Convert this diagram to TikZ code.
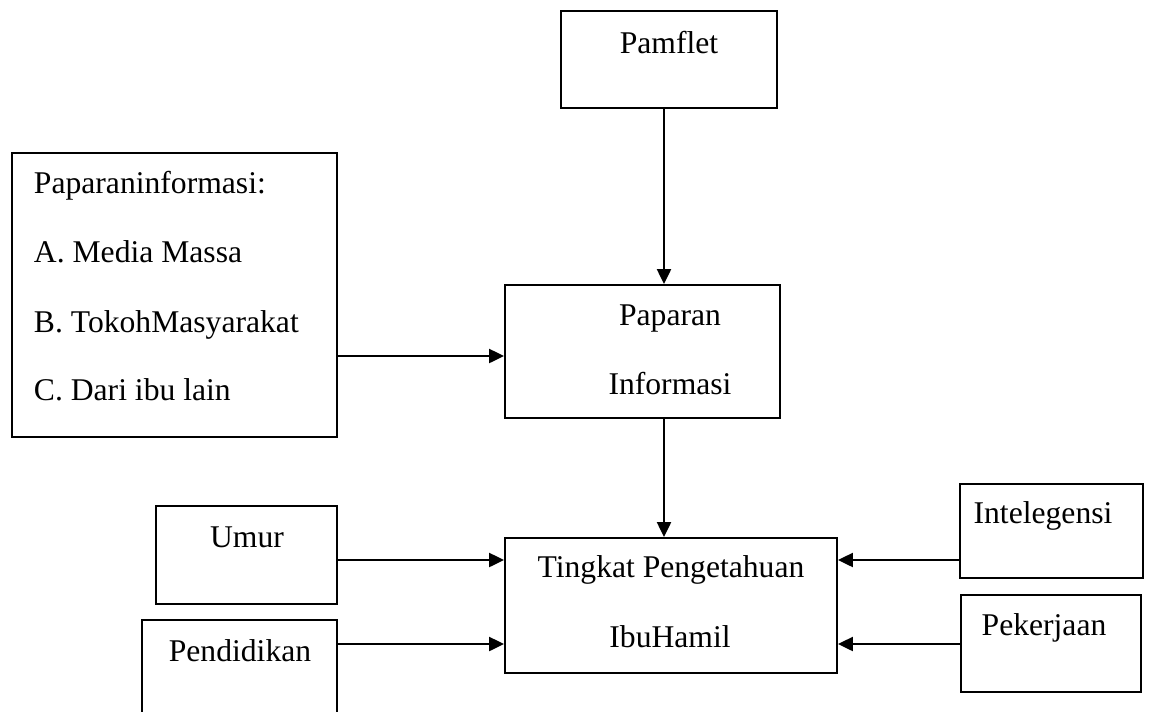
\documentclass[tikz,border=0pt]{standalone}
\usepackage{fontspec}
\setmainfont{Liberation Serif}
\usetikzlibrary{arrows.meta,fit}

\begin{document}
\begin{tikzpicture}[x=0.02cm,y=-0.02cm,>={Triangle[length=8.5pt,width=8pt]},
  line width=1.1pt,font=\fontsize{18}{22}\selectfont,
  box/.style={draw,inner sep=0pt},
  txt/.style={anchor=base,inner sep=0pt}]
  \useasboundingbox (0,0) rectangle (1149,711);
  \clip (0,0) rectangle (1149,711);

  \coordinate (xa) at (664,0);
  \coordinate (ya) at (0,356);
  \coordinate (yb) at (0,560);
  \coordinate (yc) at (0,644);

  % kotak
  \node[box,fit={(561,11) (777,108)}] (pamflet) {};
  \node[box,fit={(12,153) (337,437)}] (info) {};
  \node[box,fit={(505,285) (780,418)}] (paparan) {};
  \node[box,fit={(505,538) (837,673)}] (tingkat) {};
  \node[box,fit={(156,506) (337,604)}] (umur) {};
  \node[box,fit={(142,620) (337,760)}] (pendidikan) {};
  \node[box,fit={(960,484) (1143,578)}] (intelegensi) {};
  \node[box,fit={(961,595) (1141,692)}] (pekerjaan) {};

  % teks
  \node[txt] (tPamflet) at (669,53) {Pamflet};
  \node[txt,anchor=base west] (tInfo1) at (33,193) {Paparaninformasi:};
  \node[txt,anchor=base west] (tInfo2) at (33,262) {A. Media Massa};
  \node[txt,anchor=base west] (tInfo3) at (33,332) {B. TokohMasyarakat};
  \node[txt,anchor=base west] (tInfo4) at (33,400) {C. Dari ibu lain};
  \node[txt] (tPaparan1) at (670,325) {Paparan};
  \node[txt] (tPaparan2) at (670,394) {Informasi};
  \node[txt] (tTingkat1) at (671,577) {Tingkat Pengetahuan};
  \node[txt] (tTingkat2) at (670,647) {IbuHamil};
  \node[txt] (tUmur) at (247,547) {Umur};
  \node[txt] (tPendidikan) at (240,661) {Pendidikan};
  \node[txt] (tIntelegensi) at (1043,523) {Intelegensi};
  \node[txt] (tPekerjaan) at (1044,635) {Pekerjaan};

  % panah
  \draw[->] (pamflet.south -| xa) -- (paparan.north -| xa);
  \draw[->] (paparan.south -| xa) -- (tingkat.north -| xa);
  \draw[->] (info.east |- ya) -- (paparan.west |- ya);
  \draw[->] (umur.east |- yb) -- (tingkat.west |- yb);
  \draw[->] (pendidikan.east |- yc) -- (tingkat.west |- yc);
  \draw[->] (intelegensi.west |- yb) -- (tingkat.east |- yb);
  \draw[->] (pekerjaan.west |- yc) -- (tingkat.east |- yc);
\end{tikzpicture}
\end{document}
